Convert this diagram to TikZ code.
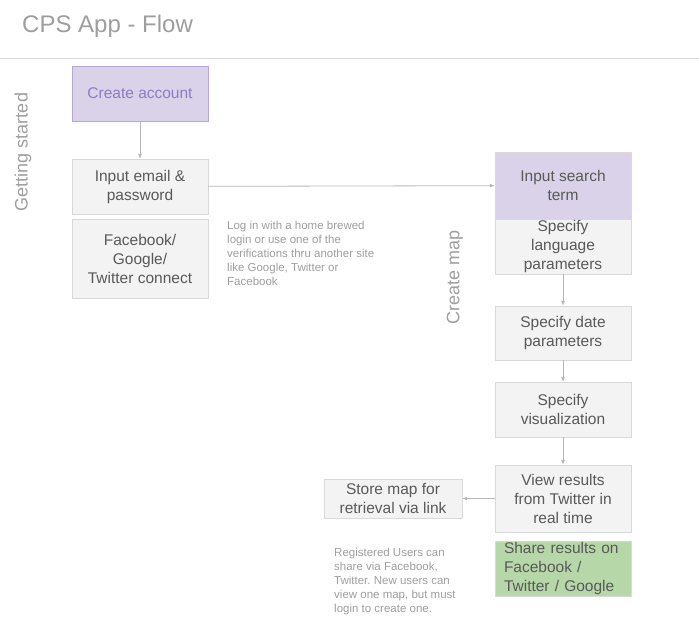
\documentclass[tikz,border=0pt]{standalone}
\usepackage{fontspec}
\setmainfont{Liberation Sans}
\usetikzlibrary{arrows.meta}
\definecolor{boxgray}{RGB}{243,243,243}
\definecolor{linegray}{RGB}{217,217,217}
\definecolor{arrowgray}{RGB}{183,183,183}
\definecolor{textgray}{RGB}{89,89,89}
\definecolor{lightgray}{RGB}{158,158,158}
\definecolor{nicepurple}{RGB}{217,210,233}
\definecolor{nicepurpleD}{RGB}{180,167,214}
\definecolor{nicepurpleT}{RGB}{142,124,195}
\definecolor{nicegreen}{RGB}{182,215,168}

\begin{document}
\begin{tikzpicture}[x = 1pt, y = -1pt,
			box/.style = {draw = linegray, fill = boxgray, text = textgray, minimum width = 136pt, align = center, inner ysep = 0pt, font = \fontsize{15.5}{19}\selectfont},
			link/.style = {draw = arrowgray, line width = 0.8pt, -{Latex[length = 5pt, width = 4pt]}},
			note/.style = {anchor = north west, align = left, inner sep = 0pt, text = lightgray, font = \fontsize{11.5}{14}\selectfont\frenchspacing},
			side/.style = {rotate = 90, text = lightgray, font = \fontsize{18}{22}\selectfont}]
			\useasboundingbox (0,0) rectangle (699,618);
			\node (t) at (22,26) [anchor = west, inner sep = 0pt, text = lightgray, font = \fontsize{24}{28}\selectfont] {CPS App - Flow};
			\draw [draw = linegray, line width = 0.8pt] (0,58) -- (699,58);
			\node (gs) at (23,152) [side] {Getting started};
			\node (cm) at (455,277) [side] {Create map};
			\node (a) at (140,93.5) [box, minimum height = 55pt, draw = nicepurpleD, fill = nicepurple, text = nicepurpleT] {Create account};
			\node (b) at (140,186.5) [box, minimum height = 55pt] {Input email \&\\password};
			\node (c) at (140,258.5) [box, minimum height = 79pt] {Facebook/\\Google/\\Twitter connect};
			\node (n1) at (227,221) [note] {Log in with a home brewed\\login or use one of the\\verifications thru another site\\like Google, Twitter or\\Facebook};
			\node (d) at (563,185.5) [box, minimum height = 67pt, fill = nicepurple] {Input search\\term};
			\node (e) at (563,246.5) [box, minimum height = 55pt] {Specify\\language\\parameters};
			\node (f) at (563,333) [box, minimum height = 54pt] {Specify date\\parameters};
			\node (g) at (563,409.5) [box, minimum height = 55pt] {Specify\\visualization};
			\node (h) at (563,498.5) [box, minimum height = 67pt] {View results\\from Twitter in\\real time};
			\node (i) at (563,568.5) [box, minimum height = 55pt, fill = nicegreen, align = left, text width = 118pt, inner xsep = 9pt] {Share results on\\Facebook /\\Twitter / Google};
			\node (j) at (393,498.5) [box, minimum height = 39pt, minimum width = 138pt] {Store map for\\retrieval via link};
			\node (n2) at (334,548) [note] {Registered Users can\\share via Facebook,\\Twitter. New users can\\view one map, but must\\login to create one.};
			\draw [link] (a) -- (b);
			\draw [link] (b) -- (d);
			\draw [link] (e) -- (f);
			\draw [link] (f) -- (g);
			\draw [link] (g) -- (h);
			\draw [link] (h) -- (j);
			\end{tikzpicture}
\end{document}
